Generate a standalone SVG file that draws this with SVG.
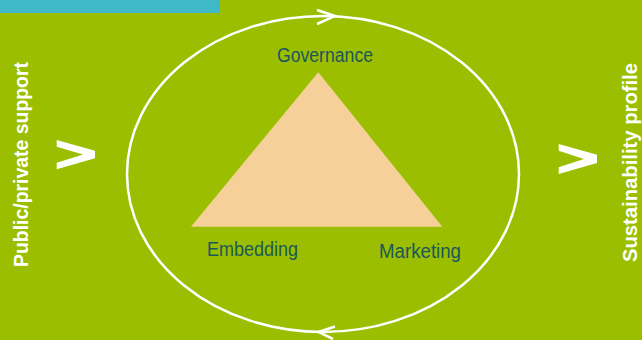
<svg xmlns="http://www.w3.org/2000/svg" width="642" height="340" viewBox="0 0 642 340">
  <style>
    .lbl { font-family: "Liberation Sans", Arial, sans-serif; font-size: 20px; fill: #1b575a; }
    .side { font-family: "Liberation Sans", Arial, sans-serif; font-size: 19.5px; font-weight: bold; fill: #ffffff; text-anchor: middle; }
    .ring { fill: none; stroke: #ffffff; stroke-width: 2.5; }
    .chev { fill: #ffffff; }
  </style>
  <rect x="0" y="0" width="642" height="340" fill="#9bbf00"/>
  <rect id="header-bar" x="0" y="0" width="220" height="13" fill="#3fb9c7"/>

  <g id="connectors">
    <ellipse class="ring" cx="323" cy="174" rx="196" ry="158"/>
    <polyline class="ring" points="317,10 335,16 317,24"/>
    <polyline class="ring" points="335,326.5 318.5,332 333,339"/>
  </g>

  <g id="triangle">
    <polygon points="318.3,72.3 442.3,226.7 191,226.7" fill="#f5d199"/>
  </g>

  <g id="governance">
    <text class="lbl" x="277" y="62" textLength="96" lengthAdjust="spacingAndGlyphs">Governance</text>
  </g>
  <g id="embedding">
    <text class="lbl" x="207" y="256" textLength="91" lengthAdjust="spacingAndGlyphs">Embedding</text>
  </g>
  <g id="marketing">
    <text class="lbl" x="379" y="258" textLength="82" lengthAdjust="spacingAndGlyphs">Marketing</text>
  </g>

  <g id="public-private-support">
    <text class="side" transform="translate(28,164.5) rotate(-90)" textLength="205" lengthAdjust="spacingAndGlyphs">Public/private support</text>
    <polygon class="chev" points="56.7,140 95,150.7 95,158.3 56.7,169.3 56.7,162.7 83,154.5 56.7,146.7"/>
  </g>
  <g id="sustainability-profile">
    <text class="side" transform="translate(636.5,162.5) rotate(-90)" textLength="199" lengthAdjust="spacingAndGlyphs">Sustainability profile</text>
    <polygon class="chev" points="558.7,144 597,154.7 597,163 558.7,174 558.7,167.3 584,159 558.7,150.7"/>
  </g>
</svg>
